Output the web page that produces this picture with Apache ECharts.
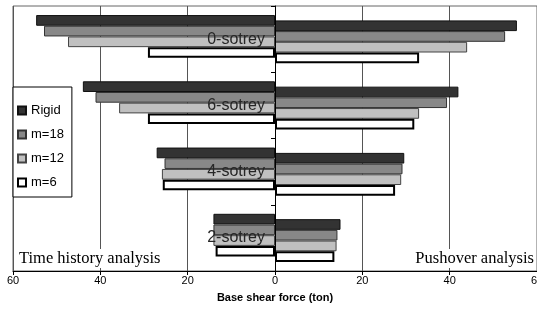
<!DOCTYPE html>
<html>
<head>
<meta charset="utf-8">
<script src="https://cdn.jsdelivr.net/npm/echarts@6/dist/echarts.min.js"></script>
<style>
  html, body { margin: 0; padding: 0; background: #fff; }
  #chart { width: 537px; height: 315px; }
</style>
</head>
<body>
<div id="chart"></div>
<script>
// stories, top to bottom
const stories = ['0-sotrey', '6-sotrey', '4-sotrey', '2-sotrey'];
const cases = ['Rigid', 'm=18', 'm=12', 'm=6'];

// time history analysis (drawn to the left)
const thRigid = [54.7, 44.0, 27.1, 14.1];
const thM18 = [52.9, 41.1, 25.3, 14.1];
const thM12 = [47.4, 35.7, 25.9, 14.1];
const thM6 = [29.1, 29.1, 25.7, 13.6];

// pushover analysis (drawn to the right)
const poRigid = [55.4, 42.0, 29.6, 15.0];
const poM18 = [52.7, 39.4, 29.2, 14.3];
const poM12 = [44.0, 33.0, 28.9, 14.1];
const poM6 = [33.0, 31.9, 27.5, 13.6];

const xTicks = [-60, -40, -20, 0, 20, 40, 60];

const fills = ['#333333', '#888888', '#c0c0c0', '#ffffff'];
const borders = ['#111', '#333', '#444', '#000'];
const borderW = [1, 1, 1, 2];

const thData = [thRigid, thM18, thM12, thM6];
const poData = [poRigid, poM18, poM12, poM6];

// left and right bars interleave, each half a bar lower than the previous one
let series = [];
cases.forEach((name, i) => {
    const style = { color: fills[i], borderColor: borders[i], borderWidth: borderW[i] };
    series.push({
        name: name, type: 'bar',
        barWidth: 10.7, barGap: '-50%',
        itemStyle: style,
        data: thData[i].map(v => -v)
    });
    series.push({
        name: name, type: 'bar',
        barWidth: 10.7, barGap: '-50%',
        itemStyle: style,
        data: poData[i]
    });
});

const chart = echarts.init(document.getElementById('chart'));
chart.setOption({
    animation: false,
    grid: {
        left: 13, right: 0, top: 6, bottom: 44,
        outerBoundsMode: 'none', containLabel: false,
        show: true, borderColor: '#666', borderWidth: 1
    },
    legend: {
        data: cases,
        orient: 'vertical',
        left: 13, top: 87,
        padding: [17, 8, 8, 4],
        backgroundColor: '#fff',
        borderColor: '#000', borderWidth: 1,
        itemWidth: 8, itemHeight: 8, itemGap: 11,
        icon: 'rect',
        textStyle: { fontFamily: 'Liberation Sans', fontSize: 13, color: '#000' }
    },
    xAxis: {
        type: 'value', min: -60, max: 60, interval: 20,
        name: 'Base shear force (ton)', nameLocation: 'middle', nameGap: 21,
        nameTextStyle: { fontFamily: 'Liberation Sans', fontWeight: 'bold', fontSize: 11, color: '#000' },
        axisLine: { show: true, lineStyle: { color: '#000' } },
        axisTick: { show: true, length: 4, lineStyle: { color: '#000' } },
        axisLabel: {
            fontFamily: 'Liberation Sans', fontSize: 11, color: '#000', margin: 4,
            formatter: v => xTicks.includes(v) ? String(Math.abs(v)) : ''
        },
        splitLine: { show: true, lineStyle: { color: '#555', width: 1 } }
    },
    yAxis: {
        type: 'category', data: stories, inverse: true, z: 10,
        axisLine: { onZero: true, lineStyle: { color: '#000' } },
        axisTick: { show: true, length: 4, lineStyle: { color: '#000' } },
        // labels sit just left of the zero line
        axisLabel: { fontFamily: 'Liberation Sans', fontSize: 16, color: '#262626', margin: -252 }
    },
    graphic: [
        {
            type: 'text', left: 17, top: 249, z: 5,
            style: { text: 'Time history analysis', font: '16.5px "Liberation Serif"', fill: '#000', backgroundColor: '#fff', padding: [1, 2] }
        },
        {
            type: 'text', right: 1, top: 249, z: 5,
            style: { text: 'Pushover analysis', font: '16.5px "Liberation Serif"', fill: '#000', backgroundColor: '#fff', padding: [1, 2] }
        }
    ],
    series: series
});
</script>
</body>
</html>
